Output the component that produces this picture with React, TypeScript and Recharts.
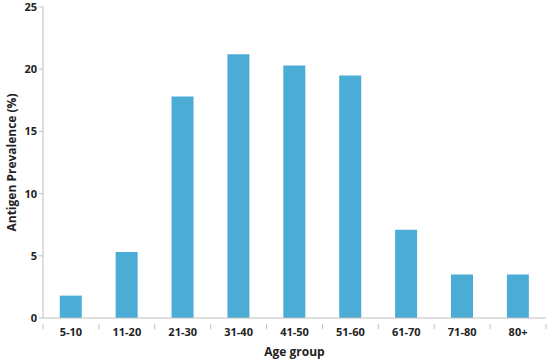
import { BarChart, Bar, XAxis, YAxis } from 'recharts';

const ageGroups = ['5-10', '11-20', '21-30', '31-40', '41-50', '51-60', '61-70', '71-80', '80+'];
const prevalence = [1.8, 5.3, 17.8, 21.2, 20.3, 19.5, 7.1, 3.5, 3.5];
const yTicks = [0, 5, 10, 15, 20, 25];

const data = ageGroups.map((g, i) => ({ group: g, value: prevalence[i] }));

const font = '"Open Sans", Lato, sans-serif';
const axisColor = '#bfbfbf';
const chartW = 550;
const yAxisW = 43;
const rightM = 4;
const step = (chartW - yAxisW - rightM) / ageGroups.length;

// category tick: label at centre, tick marks at the band edges (Excel style)
function AgeTick(props: any) {
  const { x, y, payload, index } = props;
  const top = y - 8;
  return (
    <g>
      <line x1={x - step / 2} x2={x - step / 2} y1={top} y2={top + 5} stroke={axisColor} />
      {index === ageGroups.length - 1 && (
        <line x1={x + step / 2} x2={x + step / 2} y1={top} y2={top + 5} stroke={axisColor} />
      )}
      <text x={x} y={y + 4} textAnchor="middle" fontSize={11} fontWeight={700} fill="#222" fontFamily={font}>
        {payload.value}
      </text>
    </g>
  );
}

export default function App() {
  return (
    <div style={{ position: 'absolute', left: 0, top: 0, fontFamily: font }}>
      <BarChart width={chartW} height={361} data={data} margin={{ top: 7, right: rightM, left: 0, bottom: 0 }} barCategoryGap="30%">
        <XAxis
          dataKey="group"
          stroke={axisColor}
          tickLine={false}
          tick={<AgeTick />}
          tickMargin={8}
          height={43}
          interval={0}
          label={{ value: 'Age group', position: 'insideBottom', offset: 5, fontSize: 12, fontWeight: 700, fill: '#222', fontFamily: font }}
        />
        <YAxis
          domain={[0, 25]}
          ticks={yTicks}
          stroke={axisColor}
          tickSize={4}
          width={yAxisW}
          tick={{ fontSize: 11, fontWeight: 700, fill: '#222', fontFamily: font }}
          label={{ value: 'Antigen Prevalence (%)', angle: -90, position: 'insideLeft', offset: 12, style: { textAnchor: 'middle' }, fontSize: 12, fontWeight: 700, fill: '#222', fontFamily: font }}
        />
        <Bar dataKey="value" fill="#4bacd6" isAnimationActive={false} />
      </BarChart>
    </div>
  );
}
